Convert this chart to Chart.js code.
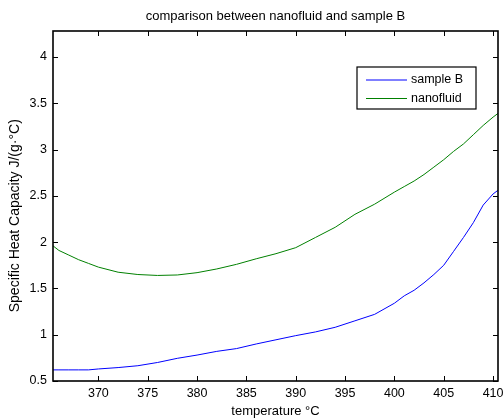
<!DOCTYPE html>
<html>
<head>
<meta charset="utf-8">
<script src="https://cdn.jsdelivr.net/npm/chart.js@4/dist/chart.umd.min.js"></script>
<style>
  body { margin: 0; background: #fff; }
  #wrap { width: 503px; height: 419px; }
</style>
</head>
<body>
<div id="wrap"><canvas id="chart" width="503" height="419"></canvas></div>
<script>
// temperatures (°C)
const temps = [365.4, 366, 367, 368, 369, 370, 372, 374, 376, 378, 380, 382, 384, 386, 388,
  390, 392, 394, 396, 398, 400, 401, 402, 403, 404, 405, 406, 407, 408, 409, 410, 410.5];

const sampleB = [0.62, 0.62, 0.62, 0.62, 0.62, 0.63, 0.645, 0.665, 0.70, 0.745, 0.78, 0.82, 0.85, 0.90, 0.945,
  0.99, 1.03, 1.08, 1.15, 1.22, 1.34, 1.42, 1.48, 1.56, 1.65, 1.75, 1.90, 2.05, 2.21, 2.40, 2.52, 2.56];

const nanofluid = [1.96, 1.91, 1.86, 1.81, 1.77, 1.73, 1.675, 1.65, 1.64, 1.645, 1.67, 1.71, 1.76, 1.82, 1.875,
  1.94, 2.05, 2.16, 2.30, 2.41, 2.54, 2.60, 2.66, 2.73, 2.81, 2.89, 2.98, 3.06, 3.16, 3.26, 3.35, 3.39];

const xTicks = [370, 375, 380, 385, 390, 395, 400, 405, 410];
const yTicks = [0.5, 1, 1.5, 2, 2.5, 3, 3.5, 4];

const FONT = 'Liberation Sans, Arial, sans-serif';

// matlab style box with inward ticks on all four sides
const frame = {
  id: 'frame',
  afterDatasetsDraw(chart) {
    const { ctx, chartArea: a, scales: { x, y } } = chart;
    const len = 5;
    ctx.save();
    ctx.strokeStyle = '#000';
    ctx.lineWidth = 1;
    x.ticks.forEach(t => {
      const px = Math.round(x.getPixelForValue(t.value)) + 0.5;
      ctx.beginPath();
      ctx.moveTo(px, a.bottom); ctx.lineTo(px, a.bottom - len);
      ctx.moveTo(px, a.top); ctx.lineTo(px, a.top + len);
      ctx.stroke();
    });
    y.ticks.forEach(t => {
      const py = Math.round(y.getPixelForValue(t.value)) + 0.5;
      ctx.beginPath();
      ctx.moveTo(a.left, py); ctx.lineTo(a.left + len, py);
      ctx.moveTo(a.right, py); ctx.lineTo(a.right - len, py);
      ctx.stroke();
    });
    ctx.lineWidth = 1.6;
    ctx.strokeRect(a.left, a.top, a.right - a.left, a.bottom - a.top);
    ctx.restore();
  }
};

// legend box in the upper right, like the original
const boxLegend = {
  id: 'boxLegend',
  afterDraw(chart) {
    const { ctx, chartArea: a } = chart;
    const right = a.right - 22, top = a.top + 36;
    const w = 119, h = 42;
    const left = right - w;
    ctx.save();
    ctx.fillStyle = '#fff';
    ctx.fillRect(left, top, w, h);
    ctx.strokeStyle = '#000';
    ctx.lineWidth = 1.2;
    ctx.strokeRect(left, top, w, h);
    ctx.font = '12.5px ' + FONT;
    ctx.textBaseline = 'middle';
    chart.data.datasets.forEach((ds, i) => {
      const cy = top + 13 + i * 18.5;
      ctx.strokeStyle = ds.borderColor;
      ctx.lineWidth = 1;
      ctx.beginPath();
      ctx.moveTo(left + 9, cy); ctx.lineTo(left + 50, cy);
      ctx.stroke();
      ctx.fillStyle = '#000';
      ctx.fillText(ds.label, left + 54, cy);
    });
    ctx.restore();
  }
};

new Chart(document.getElementById('chart'), {
  type: 'line',
  data: {
    labels: temps,
    datasets: [
      {
        label: 'sample B',
        data: temps.map((t, i) => ({ x: t, y: sampleB[i] })),
        borderColor: '#0000ff',
        borderWidth: 1,
        pointRadius: 0,
        tension: 0
      },
      {
        label: 'nanofluid',
        data: temps.map((t, i) => ({ x: t, y: nanofluid[i] })),
        borderColor: '#008000',
        borderWidth: 1,
        pointRadius: 0,
        tension: 0
      }
    ]
  },
  options: {
    responsive: false,
    devicePixelRatio: 1,
    animation: false,
    layout: { padding: 0 },
    plugins: {
      legend: { display: false },
      tooltip: { enabled: false },
      title: {
        display: true,
        fullSize: false,
        text: 'comparison between nanofluid and sample B',
        color: '#000',
        font: { family: FONT, size: 13, weight: 'normal' },
        padding: { top: 9, bottom: 6.4 }
      }
    },
    scales: {
      x: {
        type: 'linear',
        min: 365.4,
        max: 410.5,
        afterBuildTicks: s => { s.ticks = xTicks.map(v => ({ value: v })); },
        afterFit: s => { s.height = 38; s.paddingRight = 5; s.paddingLeft = 0; },
        grid: { display: false, drawTicks: false },
        border: { display: false },
        ticks: {
          color: '#000',
          padding: 5,
          maxRotation: 0,
          font: { family: FONT, size: 12.5 }
        },
        title: {
          display: true,
          text: 'temperature °C',
          color: '#000',
          font: { family: FONT, size: 13 },
          padding: { top: 0, bottom: 0 }
        }
      },
      y: {
        min: 0.5,
        max: 4.28,
        afterBuildTicks: s => { s.ticks = yTicks.map(v => ({ value: v })); },
        afterFit: s => { s.width = 53; s.paddingTop = 0; s.paddingBottom = 0; },
        grid: { display: false, drawTicks: false },
        border: { display: false },
        ticks: {
          color: '#000',
          padding: 6,
          font: { family: FONT, size: 12.5 },
          callback: v => String(v)
        },
        title: {
          display: true,
          // trailing spaces push the rotated text a little lower, as in the original
          text: 'Specific Heat Capacity J/(g·°C)     ',
          color: '#000',
          font: { family: FONT, size: 14 },
          padding: { top: 7, bottom: 0 }
        }
      }
    }
  },
  plugins: [frame, boxLegend]
});
</script>
</body>
</html>
